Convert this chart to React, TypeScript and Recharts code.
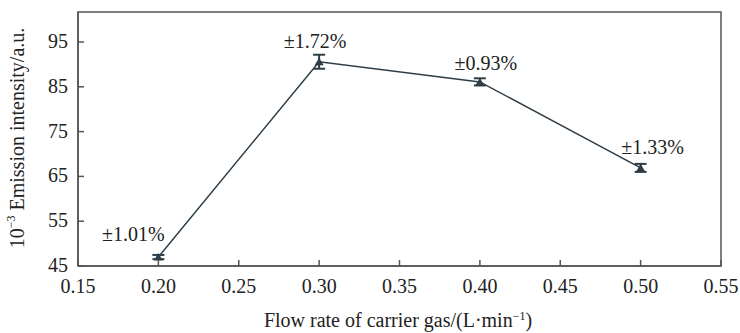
import { LineChart, Line, XAxis, YAxis, ErrorBar, LabelList, ReferenceArea } from 'recharts';

const flowRates = [0.2, 0.3, 0.4, 0.5];
const intensity = [47.0, 90.6, 86.1, 66.9];
const errors = [0.47, 1.56, 0.8, 0.89];
const rsdLabels = ['±1.01%', '±1.72%', '±0.93%', '±1.33%'];

const xTicks = [0.15, 0.2, 0.25, 0.3, 0.35, 0.4, 0.45, 0.5, 0.55];
const yTicks = [45, 55, 65, 75, 85, 95];

const LINE = '#2e3d47';
const AXIS = '#555';
const TEXT = '#222';
const FONT = '"Liberation Serif", "Times New Roman", serif';
const FS = 20;

// label offsets relative to each point (first one sits to the left)
const labelOffsets = [
  { dx: -25, dy: -16 },
  { dx: -4, dy: -14 },
  { dx: 6, dy: -12 },
  { dx: 12, dy: -14 },
];

const data = flowRates.map((x, i) => ({
  x,
  y: intensity[i],
  err: errors[i],
  label: rsdLabels[i],
}));

const XTick = ({ x, y, payload }: any) => (
  <g>
    <line x1={x} x2={x} y1={y} y2={y - 6} stroke={AXIS} strokeWidth={1.5} />
    <text x={x} y={y + 27} textAnchor="middle" fontSize={FS} fontFamily={FONT} fill={TEXT}>
      {Number(payload.value).toFixed(2)}
    </text>
  </g>
);

const YTick = ({ x, y, payload }: any) => (
  <g>
    <line x1={x} x2={x + 6} y1={y} y2={y} stroke={AXIS} strokeWidth={1.5} />
    <text x={x - 10} y={y + 6} textAnchor="end" fontSize={FS} fontFamily={FONT} fill={TEXT}>
      {payload.value}
    </text>
  </g>
);

const TriangleDot = ({ cx, cy }: any) => {
  if (cx == null || cy == null) return null;
  return <polygon points={`${cx - 4.5},${cy + 3.5} ${cx + 4.5},${cy + 3.5} ${cx},${cy - 4}`} fill={LINE} />;
};

const PointLabel = ({ x, y, index, value }: any) => {
  const off = labelOffsets[index] || { dx: 0, dy: -14 };
  return (
    <text x={x + off.dx} y={y + off.dy} textAnchor="middle" fontSize={FS} fontFamily={FONT} fill={TEXT}>
      {value}
    </text>
  );
};

export default function App() {
  return (
    <div style={{ position: 'absolute', left: 0, top: 0, width: 740, height: 333, background: '#fff' }}>
      <LineChart width={740} height={333} data={data} margin={{ top: 12, right: 19, left: 0, bottom: 0 }}>
        <ReferenceArea x1={0.15} x2={0.55} y1={45} y2={101.7} fill="none" stroke={AXIS} strokeWidth={1.5} ifOverflow="visible" />
        <XAxis
          dataKey="x"
          type="number"
          domain={[0.15, 0.55]}
          ticks={xTicks}
          height={67}
          tickSize={0}
          tickMargin={0}
          tickLine={false}
          axisLine={{ stroke: AXIS, strokeWidth: 1.5 }}
          tick={<XTick />}
          interval={0}
        />
        <YAxis
          type="number"
          domain={[45, 101.7]}
          ticks={yTicks}
          width={78}
          tickSize={0}
          tickMargin={0}
          tickLine={false}
          axisLine={{ stroke: AXIS, strokeWidth: 1.5 }}
          tick={<YTick />}
          interval={0}
          allowDataOverflow
        />
        <Line
          dataKey="y"
          stroke={LINE}
          strokeWidth={1.5}
          dot={<TriangleDot />}
          activeDot={false}
          isAnimationActive={false}
        >
          <ErrorBar dataKey="err" direction="y" width={6} stroke={LINE} strokeWidth={2} />
          <LabelList dataKey="label" content={<PointLabel />} />
        </Line>
        <text x={19} y={138} transform="rotate(-90 19 138)" textAnchor="middle" fontSize={FS} fontFamily={FONT} fill={TEXT} dominantBaseline="middle">
          10<tspan dy={-7} fontSize={12}>−3</tspan><tspan dy={7}> Emission intensity/a.u.</tspan>
        </text>
        <text x={398} y={327} textAnchor="middle" fontSize={FS} fontFamily={FONT} fill={TEXT}>
          Flow rate of carrier gas/(L·min<tspan dy={-7} fontSize={12}>−1</tspan><tspan dy={7}>)</tspan>
        </text>
      </LineChart>
    </div>
  );
}
